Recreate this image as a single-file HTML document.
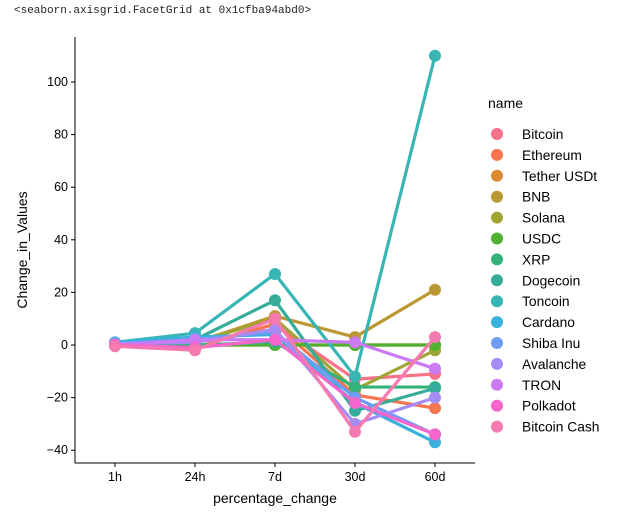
<!DOCTYPE html>
<html><head><meta charset="utf-8"><style>
body{margin:0;background:#fff;width:627px;height:521px;overflow:hidden}
.hdr{position:absolute;left:14px;top:5px;font:11px "Liberation Mono",monospace;color:#222}
</style></head><body>
<div class="hdr">&lt;seaborn.axisgrid.FacetGrid at 0x1cfba94abd0&gt;</div>
<svg id="c" width="627" height="521" style="position:absolute;left:0;top:0"></svg>
<script>
const categories=["1h","24h","7d","30d","60d"];
const names=["Bitcoin","Ethereum","Tether USDt","BNB","Solana","USDC","XRP","Dogecoin","Toncoin","Cardano","Shiba Inu","Avalanche","TRON","Polkadot","Bitcoin Cash"];
const colors=["#f77189","#f7754f","#dc8932","#bb9832","#a0a532","#50b131","#34b27a","#36ad9a","#38b5b5","#3ab0dc","#6e9bf4","#a48cf4","#cc7af4","#f565cc","#f67ab0"];
const bitcoin=[0,-1,8,-13,-11];
const ethereum=[0,-1,8,-19,-24];
const tether=[0,0,0,0,0];
const bnb=[0,1,11,3,21];
const solana=[0,1,10,-17,-2];
const usdc=[0,0,0,0,0];
const xrp=[0,0,1,-16,-16];
const dogecoin=[0,2,17,-25,-16.5];
const toncoin=[1,4.5,27,-12,110];
const cardano=[1,3,4,-22,-37];
const shiba=[0.5,2,5,-20,-34];
const avalanche=[0.5,1,6,-30,-20];
const tron=[0,2,2,1,-9];
const polkadot=[0,-1,2,-22,-34];
const bitcoinCash=[-0.5,-2,10,-33,3];
const series=[bitcoin,ethereum,tether,bnb,solana,usdc,xrp,dogecoin,toncoin,cardano,shiba,avalanche,tron,polkadot,bitcoinCash];
const yTicks=[-40,-20,0,20,40,60,80,100];
const NS="http://www.w3.org/2000/svg";
const svg=document.getElementById('c');
const X0=75,X1=475,Y0=463,Y1=37;
const x=i=>X0+40+i*80;
const y=v=>345-v*2.63;
function mk(t,a,p){const e=document.createElementNS(NS,t);for(const k in a)e.setAttribute(k,a[k]);(p||svg).appendChild(e);return e;}
const ax=mk('g',{});


let s=mk('line',{x1:X0,y1:Y1,x2:X0,y2:Y0,stroke:'#000','stroke-width':1},ax);


s=mk('line',{x1:X0,y1:Y0,x2:X1,y2:Y0,stroke:'#000','stroke-width':1},ax);


yTicks.forEach(t=>{
 const tk=mk('line',{x1:X0-4,x2:X0,y1:y(t),y2:y(t),stroke:'#000'},ax);
 
 
 const tx=mk('text',{x:X0-7,y:y(t)+4,'text-anchor':'end','font-size':12.5,'font-family':'Liberation Sans, DejaVu Sans, sans-serif'},ax);
 tx.textContent=String(t).replace('-','\u2212');
 
 
});
categories.forEach((c,i)=>{
 const tk=mk('line',{x1:x(i),x2:x(i),y1:Y0,y2:Y0+4,stroke:'#000'},ax);
 
 
 const tx=mk('text',{x:x(i),y:Y0+18,'text-anchor':'middle','font-size':12.5,'font-family':'Liberation Sans, sans-serif'},ax);
 tx.textContent=c;
 
 
});
let t=mk('text',{x:275,y:503,'text-anchor':'middle','font-size':14,'font-family':'Liberation Sans, sans-serif'});
t.textContent='percentage_change';


t=mk('text',{x:27,y:250,'text-anchor':'middle','font-size':14,'font-family':'Liberation Sans, sans-serif',transform:'rotate(-90 27 250)'});
t.textContent='Change_in_Values';


series.forEach((d,k)=>{
 const g=mk('g',{});
 
 
 const p=mk('polyline',{points:d.map((v,i)=>x(i)+','+y(v)).join(' '),fill:'none',stroke:colors[k],'stroke-width':3.2},g);
 
 
 d.forEach((v,i)=>{
  const c=mk('circle',{cx:x(i),cy:y(v),r:6,fill:colors[k]},g);
  
  
 });
});
const lg=mk('g',{});


t=mk('text',{x:488,y:108,'font-size':14,'font-family':'Liberation Sans, sans-serif'},lg);
t.textContent='name';


names.forEach((n,k)=>{
 const yy=134+k*20.9;
 const c=mk('circle',{cx:497,cy:yy,r:6,fill:colors[k]},lg);
 
 
 const tx=mk('text',{x:522,y:yy+5,'font-size':13.8,'font-family':'Liberation Sans, sans-serif'},lg);
 tx.textContent=n;
 
 
});
</script>
</body></html>
